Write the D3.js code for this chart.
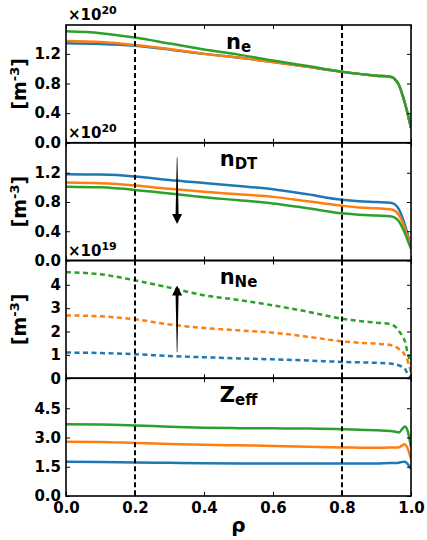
<!DOCTYPE html>
<html>
<head>
<meta charset="utf-8">
<script src="https://cdn.jsdelivr.net/npm/d3@7"></script>
<style>
body { margin: 0; background: #fff; }
svg { font-family: "DejaVu Sans", sans-serif; font-weight: bold; }
</style>
</head>
<body>
<svg id="chart" width="427" height="540"></svg>
<script>
// radial grid (rho)
const rho = [0, 0.1, 0.2, 0.3, 0.4, 0.5, 0.6, 0.7, 0.8, 0.85, 0.9, 0.94, 0.955, 0.965, 0.975, 0.982, 0.99, 1.0];

// n_e  (x1e20 m^-3)
const neBlue   = [1.345, 1.335, 1.31, 1.26, 1.20, 1.15, 1.09, 1.025, 0.957, 0.93, 0.905, 0.89, 0.85, 0.78, 0.65, 0.54, 0.40, 0.20];
const neOrange = [1.375, 1.36, 1.32, 1.265, 1.20, 1.15, 1.09, 1.025, 0.957, 0.93, 0.905, 0.89, 0.85, 0.78, 0.65, 0.54, 0.40, 0.20];
const neGreen  = [1.505, 1.48, 1.42, 1.34, 1.26, 1.19, 1.11, 1.035, 0.96, 0.93, 0.905, 0.89, 0.85, 0.78, 0.65, 0.54, 0.40, 0.20];

// n_DT (x1e20 m^-3)
const ndtBlue   = [1.18, 1.175, 1.15, 1.10, 1.06, 1.02, 0.975, 0.905, 0.83, 0.81, 0.80, 0.79, 0.76, 0.70, 0.59, 0.49, 0.36, 0.19];
const ndtOrange = [1.065, 1.055, 1.025, 0.98, 0.94, 0.905, 0.87, 0.81, 0.75, 0.725, 0.715, 0.70, 0.675, 0.62, 0.53, 0.44, 0.33, 0.18];
const ndtGreen  = [1.01, 1.0, 0.965, 0.915, 0.865, 0.825, 0.78, 0.715, 0.645, 0.625, 0.615, 0.605, 0.58, 0.535, 0.45, 0.38, 0.28, 0.16];

// n_Ne (x1e19 m^-3)
const nneBlue   = [1.10, 1.08, 1.03, 0.95, 0.90, 0.85, 0.81, 0.76, 0.70, 0.68, 0.66, 0.63, 0.60, 0.55, 0.49, 0.42, 0.20, 0.05];
const nneOrange = [2.69, 2.65, 2.52, 2.30, 2.15, 2.05, 1.95, 1.78, 1.58, 1.52, 1.48, 1.42, 1.36, 1.25, 1.15, 1.00, 0.75, 0.27];
const nneGreen  = [4.54, 4.45, 4.19, 3.88, 3.55, 3.35, 3.12, 2.85, 2.55, 2.45, 2.38, 2.31, 2.20, 2.02, 1.80, 1.60, 1.10, 0.62];

// Z_eff
const zBlue   = [1.76, 1.75, 1.72, 1.70, 1.68, 1.67, 1.67, 1.67, 1.67, 1.67, 1.67, 1.69, 1.69, 1.71, 1.75, 1.76, 1.65, 1.39];
const zOrange = [2.78, 2.77, 2.72, 2.67, 2.63, 2.60, 2.57, 2.53, 2.49, 2.48, 2.47, 2.49, 2.49, 2.50, 2.60, 2.66, 2.45, 1.90];
const zGreen  = [3.68, 3.67, 3.62, 3.55, 3.50, 3.48, 3.47, 3.46, 3.43, 3.40, 3.37, 3.34, 3.30, 3.26, 3.45, 3.56, 3.35, 2.50];

const xTicks = [0, 0.2, 0.4, 0.6, 0.8, 1.0];
const vLines = [0.2, 0.8];
// arrows: [rho, from, to] in panel units
const arrowDT = [0.322, 1.41, 0.50];
const arrowNe = [0.322, 1.11, 3.97];

const blue = "#1f77b4", orange = "#ff7f0e", green = "#2ca02c";

const left = 66, right = 411, top0 = 25, panelH = 117.75;

const panels = [
    { title: "n", sub: "e", ymax: 1.59, ticks: [0, 0.4, 0.8, 1.2], fmt: d3.format(".1f"), exp: "20", dashed: false,
      series: [[neBlue, blue], [neOrange, orange], [neGreen, green]] },
    { title: "n", sub: "DT", ymax: 1.61, ticks: [0, 0.4, 0.8, 1.2], fmt: d3.format(".1f"), exp: "20", dashed: false,
      series: [[ndtBlue, blue], [ndtOrange, orange], [ndtGreen, green]], arrow: arrowDT },
    { title: "n", sub: "Ne", ymax: 5.04, ticks: [0, 1, 2, 3, 4], fmt: d3.format("d"), exp: "19", dashed: true,
      series: [[nneBlue, blue], [nneOrange, orange], [nneGreen, green]], arrow: arrowNe },
    { title: "Z", sub: "eff", ymax: 6.04, ticks: [0, 1.5, 3.0, 4.5], fmt: d3.format(".1f"), exp: null, dashed: false,
      series: [[zBlue, blue], [zOrange, orange], [zGreen, green]] }
];

const svg = d3.select("#chart");
svg.append("rect").attr("width", 427).attr("height", 540).attr("fill", "#fff");

const x = d3.scaleLinear().domain([0, 1]).range([left, right]);

panels.forEach((p, i) => {
    const t = top0 + i * panelH;
    const b = t + panelH;
    const y = d3.scaleLinear().domain([0, p.ymax]).range([b, t]);

    const clipId = "clip" + i;
    svg.append("clipPath").attr("id", clipId)
        .append("rect").attr("x", left).attr("y", t).attr("width", right - left).attr("height", panelH);

    const g = svg.append("g").attr("clip-path", `url(#${clipId})`);

    const line = d3.line()
        .x((d, j) => x(rho[j]))
        .y(d => y(d))
        .curve(d3.curveMonotoneX);

    p.series.forEach(([vals, col]) => {
        g.append("path")
            .attr("d", line(vals))
            .attr("fill", "none")
            .attr("stroke", col)
            .attr("stroke-width", 2.5)
            .attr("stroke-dasharray", p.dashed ? "5,3.5" : null);
    });

    vLines.forEach(v => {
        g.append("line")
            .attr("x1", x(v)).attr("x2", x(v))
            .attr("y1", t).attr("y2", b)
            .attr("stroke", "#000")
            .attr("stroke-width", 2)
            .attr("stroke-dasharray", "5,3");
    });

    if (p.arrow) {
        const ax = x(p.arrow[0]), y0 = y(p.arrow[1]), y1 = y(p.arrow[2]);
        const dir = Math.sign(y1 - y0);
        const yb = y1 - dir * 10;
        g.append("path")
            .attr("d", `M${ax - 0.3},${y0}L${ax - 1.5},${yb}L${ax - 5},${yb}L${ax},${y1}L${ax + 5},${yb}L${ax + 1.5},${yb}L${ax + 0.3},${y0}Z`)
            .attr("fill", "#000");
    }

    // axes, ticks pointing in
    const yl = svg.append("g").attr("transform", `translate(${left},0)`)
        .call(d3.axisLeft(y).tickValues(p.ticks).tickFormat(p.fmt).tickSize(-4).tickPadding(5));
    const yr = svg.append("g").attr("transform", `translate(${right},0)`)
        .call(d3.axisRight(y).tickValues(p.ticks).tickFormat("").tickSize(-4));
    const xt = svg.append("g").attr("transform", `translate(0,${t})`)
        .call(d3.axisTop(x).tickValues(xTicks).tickFormat("").tickSize(-4));
    const xb = svg.append("g").attr("transform", `translate(0,${b})`)
        .call(d3.axisBottom(x).tickValues(xTicks)
            .tickFormat(i === panels.length - 1 ? d3.format(".1f") : "")
            .tickSize(-4).tickPadding(6));

    [yl, yr, xt, xb].forEach(a => {
        a.select(".domain").remove();
        a.selectAll(".tick line").attr("stroke", "#000").attr("stroke-width", 1);
        a.selectAll(".tick text")
            .attr("fill", "#000")
            .attr("font-family", "DejaVu Sans")
            .attr("font-weight", "bold")
            .attr("font-size", 15);
    });

    svg.append("rect")
        .attr("x", left).attr("y", t)
        .attr("width", right - left).attr("height", panelH)
        .attr("fill", "none").attr("stroke", "#000").attr("stroke-width", 1.6);

    // title
    const tt = svg.append("text")
        .attr("x", (left + right) / 2).attr("y", t + 23.5)
        .attr("text-anchor", "middle")
        .attr("font-size", 21);
    tt.append("tspan").text(p.title);
    tt.append("tspan").attr("font-size", 15).attr("dy", 3).text(p.sub);

    // offset text
    if (p.exp) {
        const ot = svg.append("text")
            .attr("x", left + 2).attr("y", t - 5)
            .attr("font-size", 15);
        ot.append("tspan").text("\u00d710");
        ot.append("tspan").attr("font-size", 11).attr("dy", -6).text(p.exp);

        const lab = svg.append("text")
            .attr("transform", `translate(26,${t + panelH / 2}) rotate(-90)`)
            .attr("text-anchor", "middle")
            .attr("font-size", 19);
        lab.append("tspan").text("[m");
        lab.append("tspan").attr("font-size", 13).attr("dy", -7).text("-3");
        lab.append("tspan").attr("dy", 7).text("]");
    }
});

svg.append("text")
    .attr("x", (left + right) / 2).attr("y", 532)
    .attr("text-anchor", "middle")
    .attr("font-size", 20)
    .text("\u03c1");
</script>
</body>
</html>
